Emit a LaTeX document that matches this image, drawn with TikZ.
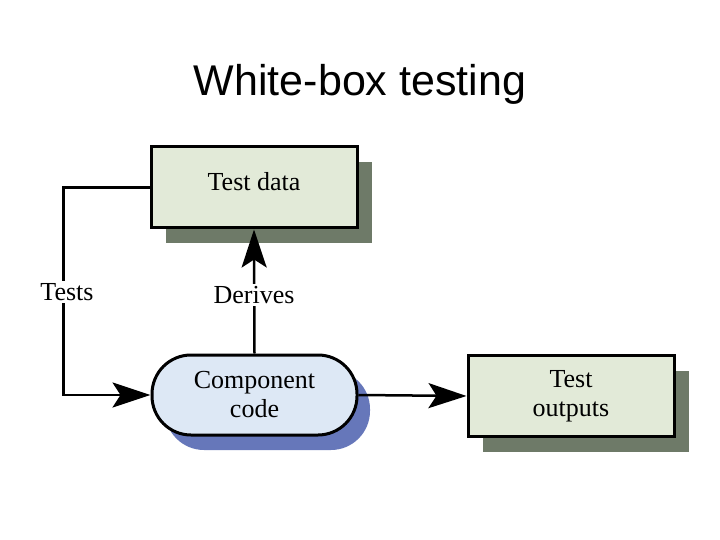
\documentclass[tikz,border=0pt]{standalone}
\usepackage{fontspec}
\setmainfont{Liberation Serif}
\newfontfamily\titlefont{Liberation Sans}
\usetikzlibrary{arrows.meta,shadows}
\definecolor{boxgreen}{RGB}{226,234,216}
\definecolor{shadgreen}{RGB}{110,122,104}
\definecolor{boxblue}{RGB}{221,232,245}
\definecolor{shadblue}{RGB}{102,119,186}
\tikzset{
  greenbox/.style={draw=black, line width=3pt, fill=boxgreen,
    minimum width=206pt, minimum height=81pt, inner sep=0pt, align=center,
    font=\fontsize{26}{29}\selectfont,
    general shadow={fill=shadgreen, shadow xshift=15pt, shadow yshift=-15pt}},
  bluebox/.style={draw=black, line width=3pt, fill=boxblue, rounded corners=39pt,
    minimum width=205pt, minimum height=80pt, inner sep=0pt, align=center,
    font=\fontsize{26}{29}\selectfont,
    general shadow={fill=shadblue, shadow xshift=13pt, shadow yshift=-15pt}},
  conn/.style={line width=2.5pt, -{Stealth[length=38pt,width=25pt,inset=8pt]}},
  lbl/.style={fill=white, inner sep=2pt, font=\fontsize{26}{29}\selectfont}
}
\begin{document}
\begin{tikzpicture}[x=1pt,y=-1pt]
\useasboundingbox (0,0) rectangle (720,540);
\node[font=\titlefont\fontsize{43}{50}\selectfont] (title) at (360,84) {White-box testing};
\node[greenbox, text depth=13pt] (td) at (254,187.5) {Test data};
\node[bluebox] (cc) at (254.5,395) {Component\\code};
\node[greenbox] (to) at (571,396) {Test\\outputs};
\draw[conn] (td.west) -- ++(-86,0) |- (cc.west);
\draw[conn] (cc.north) -- (td.south);
\draw[conn] (cc.east) -- (to.west);
\node[lbl] (tests) at (67,292) {Tests};
\node[lbl] (derives) at (254,295) {Derives};
\end{tikzpicture}
\end{document}
